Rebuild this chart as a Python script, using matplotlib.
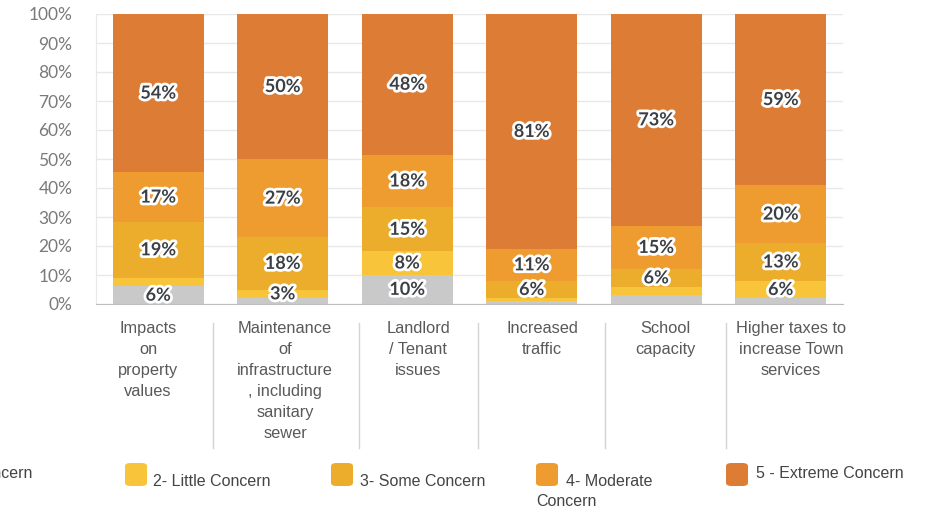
import matplotlib.pyplot as plt
import matplotlib.patheffects as pe
from matplotlib.patches import FancyBboxPatch
import numpy as np

# survey answers, percent of respondents per concern level
categories = ['Impacts\non\nproperty\nvalues',
              'Maintenance\nof\ninfrastructure\n, including\nsanitary\nsewer',
              'Landlord\n/ Tenant\nissues',
              'Increased\ntraffic',
              'School\ncapacity',
              'Higher taxes to\nincrease Town\nservices']
no_concern = [6, 2, 10, 1, 3, 2]
little_concern = [3, 3, 8, 1, 3, 6]
some_concern = [19, 18, 15, 6, 6, 13]
moderate_concern = [17, 27, 18, 11, 15, 20]
extreme_concern = [54, 50, 48, 81, 73, 59]

series_names = ['1 - No Concern', '2- Little Concern', '3- Some Concern',
                '4- Moderate\nConcern', '5 - Extreme Concern']
colors = ['#c9c9c9', '#f8c43a', '#ecac2c', '#ee9b30', '#dd7c34']

# labels the chart leaves out (series index, bar index)
hidden_labels = {(0, 1), (0, 3), (0, 4), (0, 5), (1, 0), (1, 3), (1, 4)}

W, H = 948, 513
fig = plt.figure(figsize=(W / 100, H / 100), dpi=100)


def fx(x):
    return x / W


def fy(y):
    return 1 - y / H


ax = fig.add_axes([fx(96), fy(304), fx(843) - fx(96), fy(14) - fy(304)])

data = np.array([no_concern, little_concern, some_concern,
                 moderate_concern, extreme_concern], dtype=float)
shares = data / data.sum(axis=0) * 100
x = np.arange(len(categories))
bottom = np.zeros(len(categories))
for i, (row, share) in enumerate(zip(data, shares)):
    ax.bar(x, share, bottom=bottom, width=0.73, color=colors[i], zorder=2)
    for j, v in enumerate(row):
        if (i, j) in hidden_labels:
            continue
        ax.text(x[j], bottom[j] + share[j] / 2, f'{v:.0f}%', ha='center', va='center',
                fontsize=13, fontweight='bold', color='#3b4046', family='Lato',
                zorder=3, path_effects=[pe.withStroke(linewidth=4, foreground='white')])
    bottom += share

ax.set_xlim(-0.5, len(categories) - 0.5)
ax.set_ylim(0, 100)
ax.set_yticks(np.arange(0, 101, 10))
ax.set_yticklabels([f'{t}%' for t in range(0, 101, 10)], fontsize=12.5, color='#7a7a7a',
                   family='Lato')
ax.tick_params(axis='y', length=0, pad=17)
ax.set_xticks([])
ax.grid(axis='y', color='#e8e8e8', linewidth=1, zorder=0)
for s in ['top', 'right']:
    ax.spines[s].set_visible(False)
ax.spines['left'].set_color('#e8e8e8')
ax.spines['bottom'].set_color('#bdbdbd')

# category labels sit in columns below the plot, split by thin rules
label_centers = [148, 285, 418, 542, 665, 791]
for cx, name in zip(label_centers, categories):
    fig.text(fx(cx), fy(321), name, ha='center', va='top', fontsize=11.8,
             color='#595959', family='Liberation Sans', linespacing=1.5)
for sx in [213, 359, 478, 605, 726]:
    fig.add_artist(plt.Line2D([fx(sx), fx(sx)], [fy(323), fy(448)],
                              color='#d4d4d4', linewidth=1))

# legend drawn by hand along the bottom edge
fig.text(fx(32), fy(473), series_names[0], ha='right', va='center', fontsize=11.5,
         color='#444444', family='Liberation Sans')
legend_items = [(1, 125, 153, 482), (2, 331, 360, 482), (3, 536, 566, 482), (4, 726, 756, 473)]
for idx, px_box, px_text, py_text in legend_items:
    fig.add_artist(FancyBboxPatch((fx(px_box), fy(486)), fx(22), 23 / H,
                                  boxstyle='round,pad=0,rounding_size=0.006',
                                  transform=fig.transFigure, color=colors[idx], lw=0))
    name = series_names[idx]
    if '\n' in name:
        first, second = name.split('\n')
        fig.text(fx(px_text), fy(py_text), first, ha='left', va='center', fontsize=11.5,
                 color='#444444', family='Liberation Sans')
        fig.text(fx(px_box), fy(501), second, ha='left', va='center', fontsize=11.5,
                 color='#444444', family='Liberation Sans')
    else:
        fig.text(fx(px_text), fy(py_text), name, ha='left', va='center', fontsize=11.5,
                 color='#444444', family='Liberation Sans')

fig.savefig('out.png', dpi=100, facecolor='white')
